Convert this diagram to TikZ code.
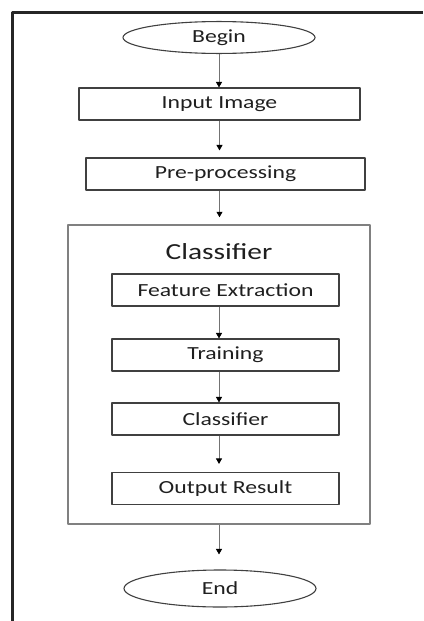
\documentclass[tikz,border=0pt]{standalone}
\usepackage{fontspec}
\setmainfont[FakeStretch=1.28]{Carlito}
\usetikzlibrary{shapes.geometric,arrows.meta,calc}

\tikzset{
	stepbox/.style={draw=black!75, line width=1.1pt, minimum height=32pt, text=black!88, font=\fontsize{18.5}{20}\selectfont},
	terminal/.style={ellipse, draw=black!75, line width=1.1pt, minimum width=192pt, text=black!88, font=\fontsize{18.5}{20}\selectfont},
	flow/.style={draw=black!55, line width=0.8pt, -{Triangle[width=6pt, length=5.5pt, black]}},
}

\begin{document}
\begin{tikzpicture}[x=1pt, y=-1pt, line join=round]

\useasboundingbox (0, 0) rectangle (423, 621);

% page frame
\draw[black!85, line width=2.2pt] (12.5, 621) -- (12.5, 12.5) -- (423, 12.5);

\node (begin) at (219, 37.5) [terminal, minimum height=31pt] {Begin};

\node (input) at (219.5, 104) [stepbox, minimum width=281pt] {Input Image};

\node (pre) at (225.5, 174) [stepbox, minimum width=279pt] {Pre-processing};

% classifier group
\node (classbox) at (219, 374.5) [draw=black!50, line width=1.5pt, minimum width=302pt, minimum height=299pt] {};
\node (title) at (219, 252) [text=black!88, font=\fontsize{23}{26}\selectfont] {Classifier};

\node (feature) at (225.5, 290) [stepbox, minimum width=227pt] {Feature Extraction};
\node (training) at (225.5, 355) [stepbox, minimum width=227pt] {Training};
\node (classify) at (225.5, 419) [stepbox, minimum width=227pt] {Classifier};
\node (output) at (225.5, 488.5) [stepbox, minimum width=227pt] {Output Result};

\node (end) at (220, 588.5) [terminal, minimum height=37pt] {End};

\draw[flow] (begin.south) -- (begin.south |- input.north);
\draw[flow, shorten >=7pt] (input.south) -- (input.south |- pre.north);
\draw[flow, shorten >=7pt] (input.south |- pre.south) -- (input.south |- classbox.north);

\draw[flow] (title.south |- feature.south) -- (title.south |- training.north);
\draw[flow] (title.south |- training.south) -- (title.south |- classify.north);
\draw[flow, shorten >=8pt] (title.south |- classify.south) -- (title.south |- output.north);

\draw[flow, shorten >=15pt] (classbox.south) -- (classbox.south |- end.north);

\end{tikzpicture}
\end{document}
